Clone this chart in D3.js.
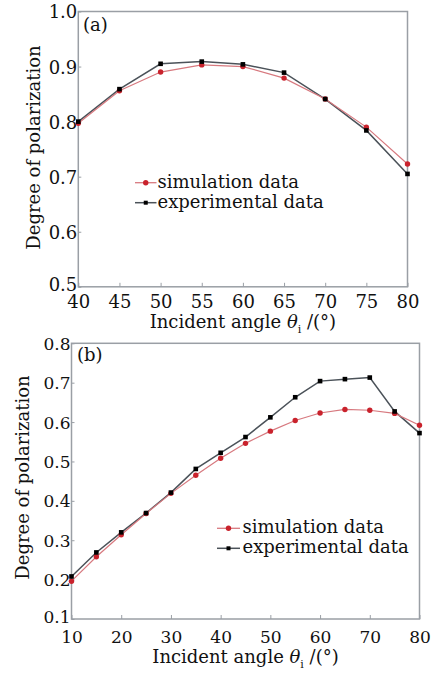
<!DOCTYPE html>
<html>
<head>
<meta charset="utf-8">
<script src="https://cdn.jsdelivr.net/npm/d3@7/dist/d3.min.js"></script>
<style>
html,body{margin:0;padding:0;background:#fff;}
svg{display:block;}
text{font-family:"DejaVu Serif",serif;fill:#111;}
</style>
</head>
<body>
<svg id="chart" width="433" height="673"></svg>
<script>
// Panel (a)
const anglesA = [40,45,50,55,60,65,70,75,80];
const simA = [0.797,0.856,0.890,0.903,0.900,0.879,0.841,0.790,0.723];
const expA = [0.800,0.859,0.905,0.909,0.904,0.889,0.841,0.784,0.705];
const xTicksA = [40,45,50,55,60,65,70,75,80];
const yTicksA = [0.5,0.6,0.7,0.8,0.9,1.0];

// Panel (b)
const anglesB = [10,15,20,25,30,35,40,45,50,55,60,65,70,75,80];
const simB = [0.196,0.258,0.314,0.368,0.419,0.465,0.508,0.546,0.577,0.604,0.623,0.632,0.630,0.622,0.592];
const expB = [0.208,0.269,0.320,0.369,0.421,0.481,0.522,0.562,0.612,0.663,0.704,0.709,0.713,0.627,0.572];
const xTicksB = [10,20,30,40,50,60,70,80];
const yTicksB = [0.1,0.2,0.3,0.4,0.5,0.6,0.7,0.8];

const seriesNames = ["simulation data","experimental data"];

const svg = d3.select("#chart");

function panel(cfg){
  const x = d3.scaleLinear().domain(cfg.xdom).range([cfg.left, cfg.right]);
  const y = d3.scaleLinear().domain(cfg.ydom).range([cfg.bottom, cfg.top]);
  const g = svg.append("g");
  const frameColor = "#9a9fa5";

  g.append("rect").attr("x",cfg.left).attr("y",cfg.top)
    .attr("width",cfg.right-cfg.left).attr("height",cfg.bottom-cfg.top)
    .attr("fill","none").attr("stroke",frameColor).attr("stroke-width",1.5);

  const xa = g.append("g").attr("transform",`translate(0,${cfg.bottom})`)
    .call(d3.axisBottom(x).tickValues(cfg.xticks).tickSize(-4).tickFormat(d3.format("d")));
  xa.select(".domain").remove();
  xa.selectAll(".tick line").attr("stroke",frameColor).attr("stroke-width",1);
  xa.selectAll(".tick text").attr("y",cfg.xLabelOff).attr("dy",0)
    .style("font-family","DejaVu Serif").style("font-size",cfg.tickFont+"px").attr("fill","#111");

  const ya = g.append("g").attr("transform",`translate(${cfg.left},0)`)
    .call(d3.axisLeft(y).tickValues(cfg.yticks).tickSize(-3).tickFormat(d3.format(".1f")));
  ya.select(".domain").remove();
  ya.selectAll(".tick line").attr("stroke",frameColor).attr("stroke-width",1);
  ya.selectAll(".tick text").attr("x",-1).attr("dy",(d,i)=> i===0 ? "0.22em" : "0.36em")
    .style("font-family","DejaVu Serif").style("font-size",cfg.tickFont+"px").attr("fill","#111");

  const line = d3.line().x(d=>x(d[0])).y(d=>y(d[1]));
  const simPts = cfg.angles.map((a,i)=>[a,cfg.sim[i]]);
  const expPts = cfg.angles.map((a,i)=>[a,cfg.exp[i]]);

  g.append("path").datum(expPts).attr("d",line).attr("fill","none")
    .attr("stroke","#4b5259").attr("stroke-width",1.5);
  g.append("path").datum(simPts).attr("d",line).attr("fill","none")
    .attr("stroke","#d7797f").attr("stroke-width",1.2);

  g.selectAll(".sm").data(simPts).enter().append("circle")
    .attr("cx",d=>x(d[0])).attr("cy",d=>y(d[1])).attr("r",2.7).attr("fill","#c9222c");
  g.selectAll(".em").data(expPts).enter().append("rect")
    .attr("x",d=>x(d[0])-2.3).attr("y",d=>y(d[1])-2.3).attr("width",4.6).attr("height",4.6).attr("fill","#000");

  g.append("text").attr("x",cfg.tagX).attr("y",cfg.tagY).style("font-size","18px").text(cfg.tag);

  const L = cfg.legend;
  seriesNames.forEach((name,i)=>{
    const ly = L.y + i*20;
    g.append("line").attr("x1",L.x1).attr("x2",L.x2).attr("y1",ly).attr("y2",ly)
      .attr("stroke", i===0 ? "#d7797f" : "#4b5259").attr("stroke-width", i===0?1.3:1.5);
    if(i===0){
      g.append("circle").attr("cx",(L.x1+L.x2)/2).attr("cy",ly).attr("r",2.7).attr("fill","#c9222c");
    } else {
      g.append("rect").attr("x",(L.x1+L.x2)/2-2).attr("y",ly-2).attr("width",4).attr("height",4).attr("fill","#000");
    }
    g.append("text").attr("x",L.tx).attr("y",ly+5).style("font-size","18px").text(name);
  });

  g.append("text").attr("transform",`translate(${cfg.yTitleX},${cfg.yTitleY}) rotate(-90)`)
    .attr("text-anchor","middle").style("font-size","18px").text("Degree of polarization");

  const xt = g.append("text").attr("x",(cfg.left+cfg.right)/2).attr("y",cfg.xTitleY)
    .attr("text-anchor","middle").style("font-size","18px");
  xt.append("tspan").text("Incident angle ");
  xt.append("tspan").style("font-style","italic").text("θ");
  xt.append("tspan").attr("dy",5).style("font-size","11px").text("i");
  xt.append("tspan").attr("dy",-5).text(" /(°)");
}

panel({
  xdom:[40,80], ydom:[0.5,1.0], left:78.3, right:407.5, top:11.5, bottom:286.8,
  xticks:xTicksA, yticks:yTicksA, angles:anglesA, sim:simA, exp:expA,
  tickFont:18, xLabelOff:21.5, tag:"(a)", tagX:83, tagY:31,
  legend:{x1:135, x2:156.5, tx:157.5, y:182.7},
  yTitleX:40, yTitleY:147.5, xTitleY:328
});

panel({
  xdom:[10,80], ydom:[0.1,0.8], left:71.5, right:419.5, top:343.3, bottom:619,
  xticks:xTicksB, yticks:yTicksB, angles:anglesB, sim:simB, exp:expB,
  tickFont:17, xLabelOff:24, tag:"(b)", tagX:77, tagY:361,
  legend:{x1:217, x2:240, tx:242.5, y:528.3},
  yTitleX:29, yTitleY:477.5, xTitleY:663
});
</script>
</body>
</html>
